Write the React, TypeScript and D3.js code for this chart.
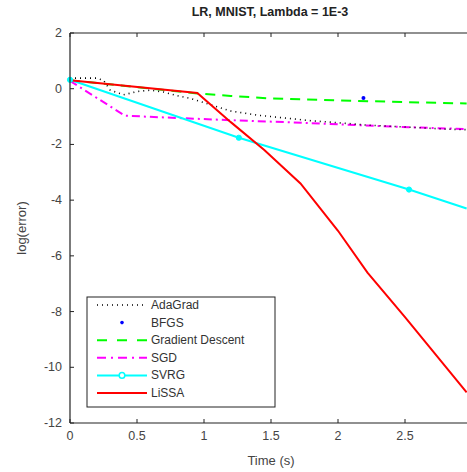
import { useEffect, useRef } from "react";
import * as d3 from "d3";

// (time in s, log error)
const adaX = [0, 0.1, 0.2, 0.25, 0.3, 0.4, 0.5, 0.6, 0.7, 0.8, 0.9, 1.0, 1.2, 1.4, 1.6, 1.8, 2.0, 2.2, 2.4, 2.6, 2.8, 2.96];
const adaY = [0.38, 0.38, 0.38, 0.3, -0.05, -0.22, -0.1, -0.05, -0.12, -0.25, -0.35, -0.5, -0.8, -0.95, -1.05, -1.15, -1.22, -1.3, -1.35, -1.4, -1.45, -1.47];
const bfgsX = [2.19];
const bfgsY = [-0.33];
const gdX = [0, 0.95, 1.2, 1.5, 2.0, 2.5, 2.96];
const gdY = [0.3, -0.17, -0.26, -0.35, -0.42, -0.48, -0.53];
const sgdX = [0, 0.41, 0.8, 1.2, 1.6, 2.0, 2.4, 2.96];
const sgdY = [0.28, -0.97, -1.05, -1.13, -1.2, -1.28, -1.36, -1.45];
const svrgX = [0, 1.26, 2.53, 2.96];
const svrgY = [0.32, -1.76, -3.62, -4.3];
const lissaX = [0, 0.95, 1.2, 1.45, 1.72, 2.0, 2.22, 2.5, 2.96];
const lissaY = [0.3, -0.15, -1.2, -2.2, -3.4, -5.1, -6.6, -8.2, -10.9];

const xTicks = [0, 0.5, 1, 1.5, 2, 2.5];
const yTicks = [2, 0, -2, -4, -6, -8, -10, -12];
const names = ["AdaGrad", "BFGS", "Gradient Descent", "SGD", "SVRG", "LiSSA"];

const font = "'Liberation Sans', Arial, sans-serif";

export default function App() {
  const ref = useRef<SVGSVGElement>(null);

  useEffect(() => {
    const svg = d3.select(ref.current);
    svg.selectAll("*").remove();

    const left = 70, right = 472, top = 33, bottom = 423;
    const x = d3.scaleLinear().domain([0, 3]).range([left, right]);
    const y = d3.scaleLinear().domain([-12, 2]).range([bottom, top]);
    const line = d3.line<[number, number]>().x((d) => x(d[0])).y((d) => y(d[1]));
    const pts = (xs: number[], ys: number[]) => xs.map((v, i) => [v, ys[i]] as [number, number]);

    svg.append("rect").attr("width", 467).attr("height", 472).attr("fill", "#fff");

    const plot = svg.append("g");

    const series = [
      { d: pts(gdX, gdY), c: "#00ff00", w: 2, dash: "10 7" },
      { d: pts(sgdX, sgdY), c: "#ff00ff", w: 2, dash: "8 4 2 4" },
      { d: pts(adaX, adaY), c: "#000", w: 1.6, dash: "1 4" },
      { d: pts(svrgX, svrgY), c: "#00ffff", w: 2, dash: null },
      { d: pts(lissaX, lissaY), c: "#ff0000", w: 2, dash: null },
    ];
    series.forEach((s) => {
      plot
        .append("path")
        .attr("d", line(s.d))
        .attr("fill", "none")
        .attr("stroke", s.c)
        .attr("stroke-width", s.w)
        .attr("stroke-dasharray", s.dash);
    });
    plot
      .selectAll(".svrgm")
      .data(pts(svrgX.slice(0, 3), svrgY.slice(0, 3)))
      .join("circle")
      .attr("cx", (d) => x(d[0]))
      .attr("cy", (d) => y(d[1]))
      .attr("r", 2.6)
      .attr("fill", "#00ffff")
      .attr("stroke", "#00ffff");
    plot
      .selectAll(".bfgs")
      .data(pts(bfgsX, bfgsY))
      .join("circle")
      .attr("cx", (d) => x(d[0]))
      .attr("cy", (d) => y(d[1]))
      .attr("r", 2)
      .attr("fill", "#0000ff");

    // frame
    const axisCol = "#222";
    svg.append("line").attr("x1", left).attr("x2", right).attr("y1", bottom).attr("y2", bottom).attr("stroke", axisCol).attr("stroke-width", 1.2);
    svg.append("line").attr("x1", left).attr("x2", right).attr("y1", top).attr("y2", top).attr("stroke", axisCol).attr("stroke-width", 1.2);
    svg.append("line").attr("x1", left).attr("x2", left).attr("y1", top).attr("y2", bottom).attr("stroke", axisCol).attr("stroke-width", 1.2);

    xTicks.forEach((t) => {
      svg.append("line").attr("x1", x(t)).attr("x2", x(t)).attr("y1", bottom).attr("y2", bottom - 4).attr("stroke", axisCol);
      svg.append("line").attr("x1", x(t)).attr("x2", x(t)).attr("y1", top).attr("y2", top + 4).attr("stroke", axisCol);
      svg
        .append("text")
        .attr("x", x(t))
        .attr("y", bottom + 17)
        .attr("text-anchor", "middle")
        .attr("font-family", font)
        .attr("font-size", 12.5)
        .attr("fill", "#444")
        .text(String(t));
    });
    yTicks.forEach((t) => {
      svg.append("line").attr("x1", left).attr("x2", left + 4).attr("y1", y(t)).attr("y2", y(t)).attr("stroke", axisCol);
      svg
        .append("text")
        .attr("x", left - 8)
        .attr("y", y(t) + 4)
        .attr("text-anchor", "end")
        .attr("font-family", font)
        .attr("font-size", 12.5)
        .attr("fill", "#444")
        .text(String(t));
    });

    svg
      .append("text")
      .attr("x", 270)
      .attr("y", 16)
      .attr("text-anchor", "middle")
      .attr("font-family", font)
      .attr("font-size", 12.5)
      .attr("font-weight", "bold")
      .attr("fill", "#222")
      .text("LR, MNIST, Lambda = 1E-3");
    svg
      .append("text")
      .attr("x", 271)
      .attr("y", 465)
      .attr("text-anchor", "middle")
      .attr("font-family", font)
      .attr("font-size", 13)
      .attr("fill", "#444")
      .text("Time (s)");
    svg
      .append("text")
      .attr("transform", "translate(26,228) rotate(-90)")
      .attr("text-anchor", "middle")
      .attr("font-family", font)
      .attr("font-size", 13)
      .attr("fill", "#444")
      .text("log(error)");

    // legend
    const lg = svg.append("g");
    lg.append("rect").attr("x", 87).attr("y", 297).attr("width", 188).attr("height", 110).attr("fill", "#fff").attr("stroke", "#222").attr("stroke-width", 1);
    const rowY = (i: number) => 305 + i * 17.6;
    const lx1 = 97, lx2 = 147;
    const styles = [
      { c: "#000", dash: "1 4", w: 1.4 },
      { c: "none", dash: null, w: 0 },
      { c: "#00ff00", dash: "10 10", w: 2 },
      { c: "#ff00ff", dash: "9 5 2 5", w: 2 },
      { c: "#00ffff", dash: null, w: 2 },
      { c: "#ff0000", dash: null, w: 2 },
    ];
    names.forEach((n, i) => {
      const s = styles[i];
      if (s.c !== "none") {
        lg.append("line").attr("x1", lx1).attr("x2", lx2).attr("y1", rowY(i)).attr("y2", rowY(i)).attr("stroke", s.c).attr("stroke-width", s.w).attr("stroke-dasharray", s.dash);
      }
      lg.append("text").attr("x", 151).attr("y", rowY(i) + 4).attr("font-family", font).attr("font-size", 12).attr("fill", "#333").text(n);
    });
    lg.append("circle").attr("cx", 122).attr("cy", rowY(1)).attr("r", 1.8).attr("fill", "#0000ff");
    lg.append("circle").attr("cx", 122).attr("cy", rowY(4)).attr("r", 2.8).attr("fill", "#fff").attr("stroke", "#00ffff").attr("stroke-width", 1.5);
  }, []);

  return (
    <svg
      ref={ref}
      width={467}
      height={472}
      style={{ position: "absolute", left: 0, top: 0 }}
    />
  );
}
